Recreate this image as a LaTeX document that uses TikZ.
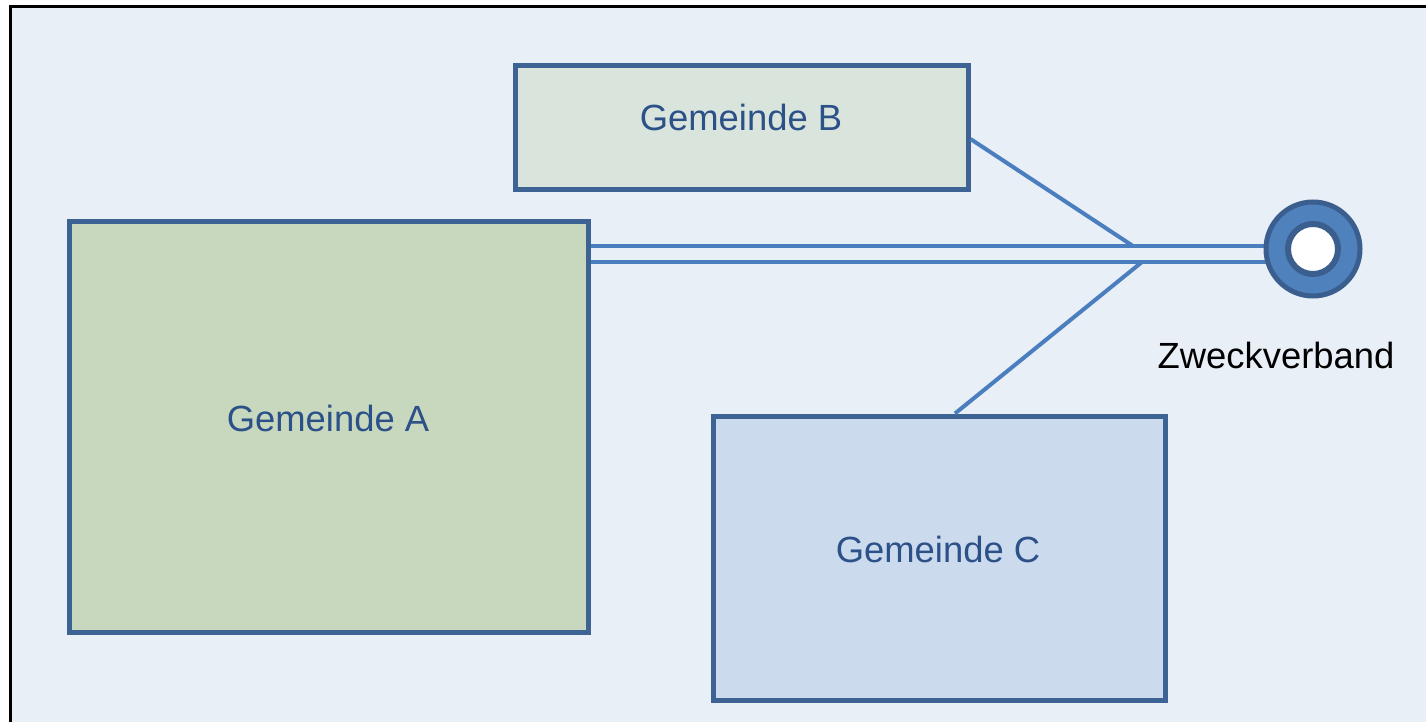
\documentclass[tikz,border=0pt]{standalone}
\usepackage{fontspec}
\setmainfont{Liberation Sans}
\definecolor{bgc}{HTML}{E8EFF7}
\definecolor{boxline}{HTML}{3D6394}
\definecolor{txtc}{HTML}{2C5088}
\definecolor{fillA}{HTML}{C8D8BE}
\definecolor{fillB}{HTML}{D8E4DC}
\definecolor{fillC}{HTML}{CBDAEC}
\definecolor{linec}{HTML}{4A7EBE}
\definecolor{ringc}{HTML}{4F81BD}
\definecolor{ringline}{HTML}{3A5F8F}
\begin{document}
\begin{tikzpicture}[x=0.5pt,y=-0.5pt,
  gbox/.style={draw=boxline,line width=2.5pt,inner sep=0pt},
  gtext/.style={text=txtc,font=\fontsize{18.2}{22}\selectfont,inner sep=0pt},
  link/.style={draw=linec,line width=2pt}]
\useasboundingbox (0,0) rectangle (1426,722);
\fill[white] (0,0) rectangle (1426,722);
\draw[fill=bgc,draw=black,line width=1.5pt] (10,7) rectangle (1440,740);
\node[gbox,fill=fillB,minimum width=453*0.5pt,minimum height=124*0.5pt] (B) at (741.5,128) {};
\node[gbox,fill=fillA,minimum width=519*0.5pt,minimum height=410*0.5pt] (A) at (328.5,427) {};
\node[gbox,fill=fillC,minimum width=452*0.5pt,minimum height=284*0.5pt] (C) at (939,558) {};
\node[gtext] (Bt) at (741,117) {Gemeinde B};
\node[gtext] (At) at (328,418) {Gemeinde A};
\node[gtext] (Ct) at (938,549) {Gemeinde C};
\coordinate (ZV) at (1313,249);
\coordinate (J1) at (1133,246);
\coordinate (J2) at (1142,262);
\draw[link] (A.east |- 0,246) -- (1270,246);
\draw[link] (A.east |- 0,262) -- (1270,262);
\draw[link] (B.east |- 0,139) -- (J1);
\draw[link] (C.north -| 955,0) -- (J2);
\node[circle,fill=ringc,draw=ringline,line width=2.5pt,minimum size=94*0.5pt,inner sep=0pt] (ring) at (ZV) {};
\node[circle,fill=white,draw=ringline,line width=3pt,minimum size=50*0.5pt,inner sep=0pt] (hole) at (ZV) {};
\node[text=black,font=\fontsize{18.2}{22}\selectfont,inner sep=0pt] (zlabel) at (1276,355) {Zweckverband};
\end{tikzpicture}
\end{document}
